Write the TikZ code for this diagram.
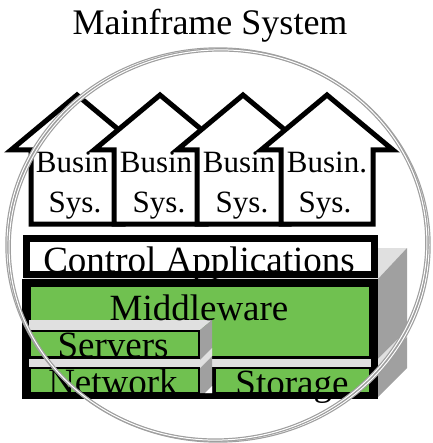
\documentclass[tikz,border=0pt]{standalone}
\usepackage{fontspec}
\setmainfont{Liberation Serif}
\definecolor{mwgreen}{RGB}{112,193,80}
\definecolor{topgray}{RGB}{224,224,224}
\definecolor{sidegray}{RGB}{160,160,160}

\begin{document}
\begin{tikzpicture}[x=1pt,y=-1pt,
  house/.style={draw=black, fill=white, line width=5pt, line join=miter},
  housetxt/.style={font=\fontsize{31}{31}\selectfont, anchor=base, inner sep=0pt},
  bigtxt/.style={font=\fontsize{37}{37}\selectfont, anchor=base, inner sep=0pt},
  layer/.style={draw=black, fill=mwgreen, line width=2pt},
  ringouter/.style={draw=gray!75, line width=3.4pt},
  ringinner/.style={draw=white, line width=1pt}]
\useasboundingbox (0,0) rectangle (432,443);

\node[font=\fontsize{36}{36}\selectfont, anchor=base, inner sep=0pt] (title) at (210,35) {Mainframe System};

% depth of the stack
\fill[topgray] (23,280) -- (377,280) -- (407,248) -- (53,248) -- cycle;
\fill[sidegray] (377,280) -- (407,248) -- (407,330) -- (377,360) -- cycle;
\fill[topgray] (377,360) -- (407,330) -- (407,337) -- (377,367) -- cycle;
\fill[sidegray] (377,367) -- (407,337) -- (407,368) -- (377,398) -- cycle;

% business systems
\foreach \i/\x/\bx/\sx/\lbl in {1/77/72/75/Busin, 2/160/156/159/Busin, 3/243/239/242/Busin, 4/327/327/325/Busin.} {
  \draw[house] (\x-46,224) -- (\x-46,150) -- (\x-66,150) -- (\x,95) -- (\x+66,150) -- (\x+46,150) -- (\x+46,224) -- cycle;
  \node[housetxt] (bus\i) at (\bx,173) {\lbl};
  \node[housetxt] (sys\i) at (\sx,212) {Sys.};
}

% control layer
\node[draw=black, fill=white, line width=7pt, minimum width=348pt, minimum height=36pt, inner sep=0pt] (ctrl) at (200,256) {};
\node[bigtxt] (ctrltxt) at (199,272) {Control Applications};

% middleware block
\fill[black] (22,279) rectangle (378,399);
\draw[layer] (30,286) rectangle (370,357);
\fill[topgray] (29,358.5) rectangle (371,367);
\fill[topgray] (29,320) -- (212,320) -- (200,330) -- (29,330) -- cycle;
\fill[sidegray] (200,330) -- (212,320) -- (212,393) -- (200,393) -- cycle;
\fill[topgray] (200,360) -- (212,348) -- (212,356) -- (200,368) -- cycle;
\fill[white] (205,393) -- (212,393) -- (212,386) -- cycle;
\draw[layer] (30,331) rectangle (199,357);
\draw[layer] (30,368) rectangle (199,393);
\draw[layer] (215,368) rectangle (370,393);

\node[bigtxt] (mw) at (199,320) {Middleware};
\node[bigtxt] (srv) at (113,357) {Servers};
\node[bigtxt] (net) at (113,394) {Network};
\node[bigtxt] (sto) at (292,395) {Storage};

% glass ring
\draw[ringouter] (218,245) ellipse [x radius=211, y radius=196];
\draw[ringinner] (218,245) ellipse [x radius=211, y radius=196];
\draw[ringouter, rotate around={5:(218,245)}] (218,245) ellipse [x radius=209, y radius=195];
\draw[ringinner, rotate around={5:(218,245)}] (218,245) ellipse [x radius=209, y radius=195];
\end{tikzpicture}
\end{document}
